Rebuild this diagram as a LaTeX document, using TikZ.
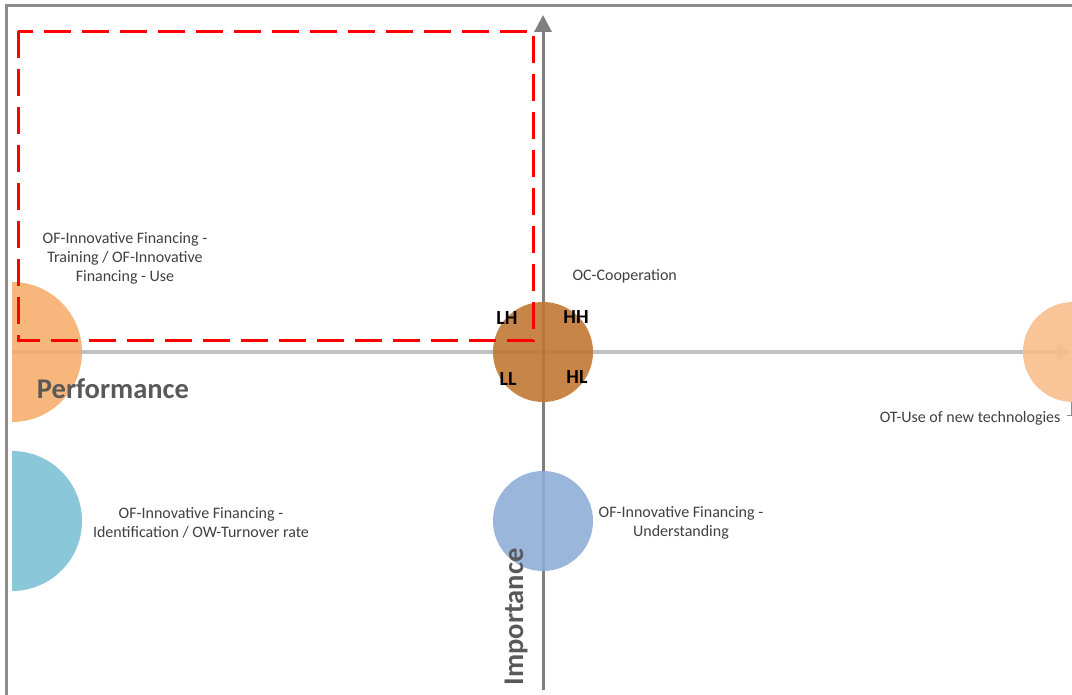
\documentclass[tikz,border=0pt]{standalone}
\usepackage{fontspec}
\setmainfont{Carlito}
\usetikzlibrary{arrows.meta}
\definecolor{framegray}{HTML}{8C8C8C}
\definecolor{vaxis}{HTML}{7F7F7F}
\definecolor{haxis}{HTML}{C0C0C0}
\definecolor{hubbrown}{HTML}{C0762F}
\definecolor{leftorange}{HTML}{F7AC6A}
\definecolor{teal}{HTML}{79C0D4}
\definecolor{softblue}{HTML}{8DACD5}
\definecolor{lightorange}{HTML}{F9BD8A}
\definecolor{labelgray}{HTML}{404040}
\definecolor{titlegray}{HTML}{595959}
\tikzset{
  frameline/.style={framegray, line width=2.2pt},
  focusbox/.style={red, line width=3pt, dash pattern=on 27pt off 11pt},
  vaxisline/.style={vaxis, line width=3pt, -{Triangle[length=17pt,width=17pt]}},
  haxisline/.style={haxis, line width=3.2pt, -{Triangle[length=15pt,width=15pt]}},
  bubble/.style={circle, inner sep=0pt, fill opacity=0.88, draw=none},
  itemlabel/.style={text=labelgray, align=center, font=\fontsize{16}{19}\selectfont},
  quadlabel/.style={font=\bfseries\fontsize{20}{22}\selectfont, text=black},
  axistitle/.style={text=titlegray, font=\bfseries\fontsize{28.5}{32}\selectfont},
  leader/.style={framegray, line width=0.8pt}
}
\begin{document}
\begin{tikzpicture}[x=1pt, y=-1pt]
  \useasboundingbox (0,0) rectangle (1072,695);
  \clip (0,0) rectangle (1072,695);
  \fill[white] (0,0) rectangle (1072,695);

  % outer frame (open to the right and bottom)
  \coordinate (fb) at (6.5,700);
  \coordinate (fc) at (6.5,5.5);
  \coordinate (fr) at (1080,5.5);
  \draw[frameline] (fb) -- (fc) -- (fr);

  % axes
  \coordinate (ybot) at (543,690);
  \coordinate (ytop) at (543,15);
  \coordinate (xleft) at (12,352);
  \coordinate (xright) at (1072,352);
  \draw[haxisline] (xleft) -- (xright);
  \draw[vaxisline] (ybot) -- (ytop);

  % bubbles
  \begin{scope}
    \clip (12,0) rectangle (1072,695);
    \node[bubble, fill=leftorange, minimum size=140pt] (perf) at (12,352) {};
    \node[bubble, fill=teal, minimum size=140pt] (ident) at (12,521) {};
  \end{scope}
  \node[bubble, fill=hubbrown, minimum size=100pt] (hub) at (543,352) {};
  \node[bubble, fill=softblue, minimum size=100pt] (under) at (543,521) {};
  \node[bubble, fill=lightorange, minimum size=100pt] (tech) at (1073,352) {};

  % highlighted quadrant
  \coordinate (b1) at (18,31.5);
  \coordinate (b2) at (533,341);
  \draw[focusbox] (b1) rectangle (b2);

  % quadrant tags
  \node[quadlabel] (lh) at (507,318.5) {LH};
  \node[quadlabel] (hh) at (576,317.5) {HH};
  \node[quadlabel] (ll) at (508,379.5) {LL};
  \node[quadlabel] (hl) at (577,377.5) {HL};

  % item labels
  \node[itemlabel] (t1) at (125,258) {OF-Innovative Financing -\\Training / OF-Innovative\\Financing - Use};
  \node[itemlabel, anchor=west] (t2) at (569,276) {OC-Cooperation};
  \node[itemlabel, anchor=east] (t3) at (1064,418) {OT-Use of new technologies};
  \node[itemlabel] (t4) at (201,523) {OF-Innovative Financing -\\Identification / OW-Turnover rate};
  \node[itemlabel] (t5) at (681,523) {OF-Innovative Financing -\\Understanding};

  % leader from the right bubble to its label
  \coordinate (l1) at (1071.5,402);
  \coordinate (l2) at (1071.5,415);
  \coordinate (l3) at (1067,415);
  \draw[leader] (l1) -- (l2) -- (l3);

  % axis titles
  \node[axistitle] (perfTitle) at (113,389) {Performance};
  \node[axistitle, rotate=90] (impTitle) at (516,617) {Importance};
\end{tikzpicture}
\end{document}
